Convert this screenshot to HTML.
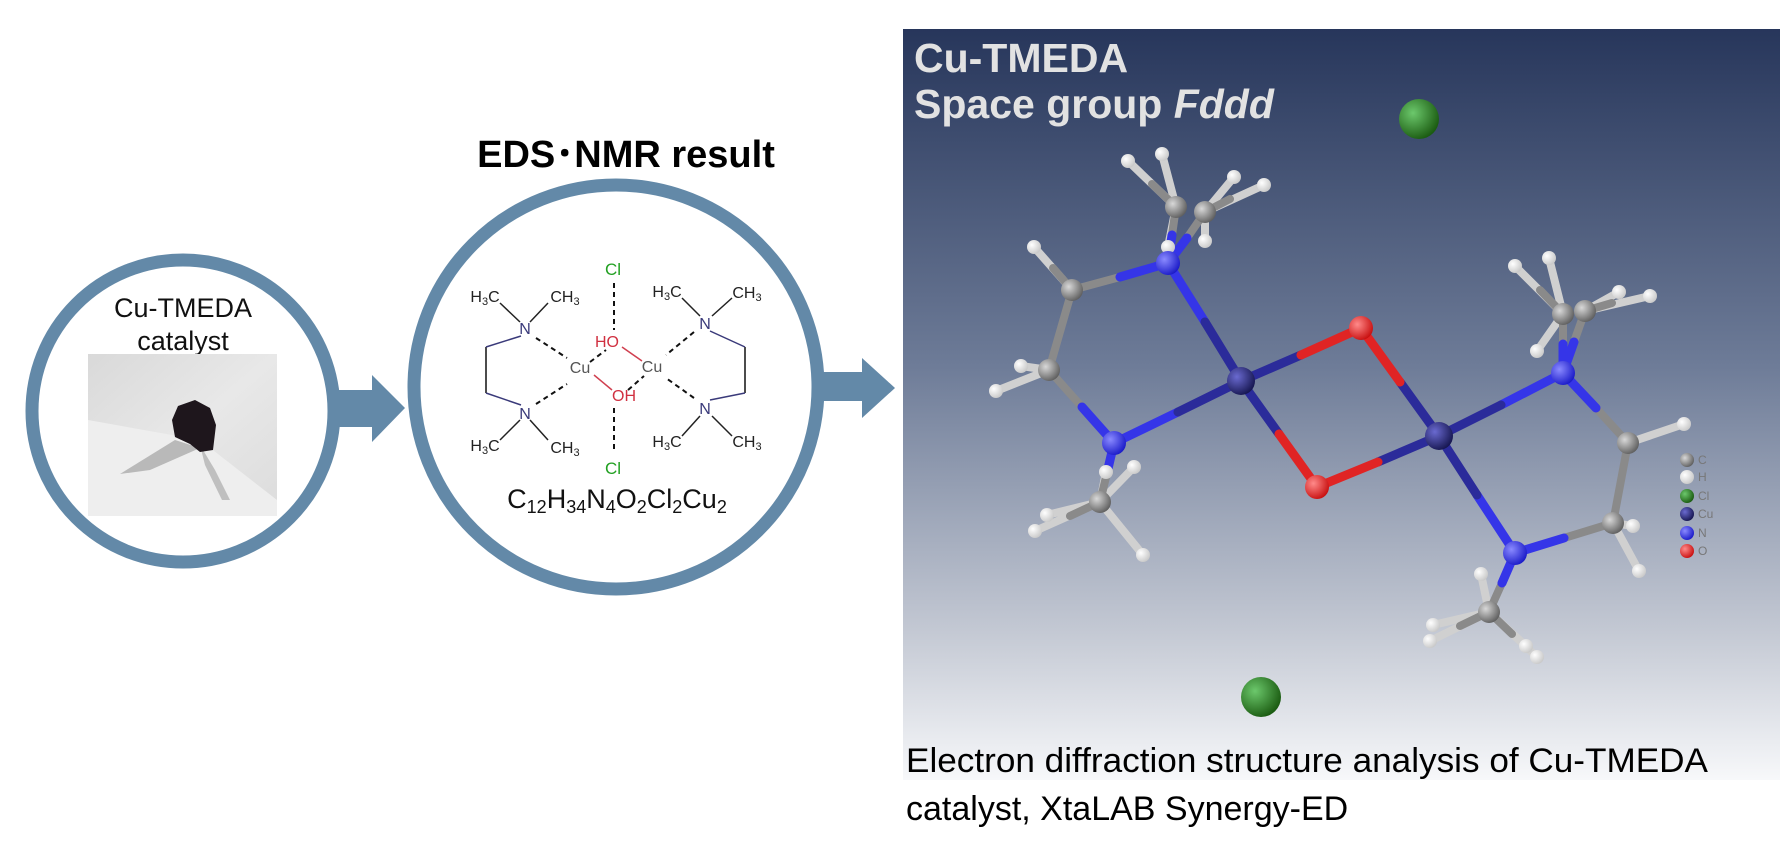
<!DOCTYPE html>
<html><head><meta charset="utf-8"><style>
html,body{margin:0;padding:0;background:#fff;}
svg{display:block;}
text{font-family:"Liberation Sans",Arial,sans-serif;}
</style></head><body>
<svg width="1780" height="843" viewBox="0 0 1780 843" xmlns="http://www.w3.org/2000/svg">
<defs>
<linearGradient id="bg" x1="0" y1="0" x2="0" y2="1">
<stop offset="0" stop-color="#27365b"/>
<stop offset="0.45" stop-color="#6e7c98"/>
<stop offset="0.8" stop-color="#c3c8d3"/>
<stop offset="1" stop-color="#f7f8fa"/>
</linearGradient>
<radialGradient id="gCu" cx="0.35" cy="0.35" r="0.7"><stop offset="0" stop-color="#6a6ad0"/><stop offset="1" stop-color="#161650"/></radialGradient>
<radialGradient id="gN" cx="0.35" cy="0.35" r="0.7"><stop offset="0" stop-color="#8a8aff"/><stop offset="1" stop-color="#1a1ac8"/></radialGradient>
<radialGradient id="gO" cx="0.35" cy="0.35" r="0.7"><stop offset="0" stop-color="#ff8a8a"/><stop offset="1" stop-color="#c80f0f"/></radialGradient>
<radialGradient id="gC" cx="0.35" cy="0.35" r="0.7"><stop offset="0" stop-color="#d8d8d8"/><stop offset="1" stop-color="#5e5e5e"/></radialGradient>
<radialGradient id="gH" cx="0.35" cy="0.35" r="0.7"><stop offset="0" stop-color="#ffffff"/><stop offset="1" stop-color="#c8c8c8"/></radialGradient>
<radialGradient id="gCl" cx="0.35" cy="0.35" r="0.7"><stop offset="0" stop-color="#6cc86c"/><stop offset="1" stop-color="#1a5a10"/></radialGradient>
<linearGradient id="photo" x1="0" y1="0" x2="1" y2="1"><stop offset="0" stop-color="#d9d9d9"/><stop offset="0.5" stop-color="#e8e8e8"/><stop offset="1" stop-color="#dcdcdc"/></linearGradient>
</defs>

<circle cx="183" cy="411" r="151" fill="#fff" stroke="#6389a8" stroke-width="13"/>
<text x="183" y="317" font-size="27" text-anchor="middle" fill="#111">Cu-TMEDA</text>
<text x="183" y="350" font-size="27" text-anchor="middle" fill="#111">catalyst</text>
<rect x="88" y="354" width="189" height="162" fill="url(#photo)"/>
<polygon points="88,420 200,440 277,500 277,516 88,516" fill="#eeeeee"/>
<polygon points="120,474 175,440 200,448 150,470" fill="#777" opacity="0.45"/>
<polygon points="200,445 215,470 230,500 222,500 205,465" fill="#777" opacity="0.4"/>
<polygon points="178,406 195,400 210,408 216,425 213,450 200,452 190,444 175,437 172,420" fill="#1e161c"/>

<rect x="335" y="390" width="40" height="37" fill="#6389a8"/>
<polygon points="372,375 405,408 372,442" fill="#6389a8"/>

<text x="626" y="167" font-size="38" font-weight="bold" text-anchor="middle" fill="#000">EDS･NMR result</text>

<circle cx="616" cy="387" r="202" fill="#fff" stroke="#6389a8" stroke-width="13"/>

<rect x="822" y="372" width="44" height="29" fill="#6389a8"/>
<polygon points="862,358 895,388 862,418" fill="#6389a8"/>

<g font-size="16" fill="#222">
<g stroke="#111" stroke-width="1.5" fill="none">
<path d="M486,347 L486,393" />
<path d="M521,336 L486,347 M521,405 L486,393" stroke="#3a3a7a"/>
<path d="M745,347 L745,393"/>
<path d="M710,331 L745,347 M710,400 L745,393" stroke="#3a3a7a"/>
<path d="M500,303 L520,322 M548,303 L530,322 M500,440 L520,420 M548,440 L530,420" stroke="#222"/>
<path d="M682,298 L700,316 M732,298 L712,316 M682,436 L700,416 M732,436 L712,416" stroke="#222"/>
</g>
<g stroke="#111" stroke-width="2" stroke-dasharray="5,4" fill="none">
<path d="M536,338 L567,358 M536,404 L567,384 M614,283 L614,330 M614,408 L614,453"/>
<path d="M590,362 L606,350 M628,390 L644,376 M694,332 L666,355 M694,398 L666,378"/>
</g>
<path d="M622,347 L642,361 M594,375 L612,390" stroke="#d04050" stroke-width="1.5"/>
<text x="613" y="275" fill="#22a022" text-anchor="middle" font-size="17">Cl</text>
<text x="613" y="474" fill="#22a022" text-anchor="middle" font-size="17">Cl</text>
<text x="607" y="347" fill="#d03040" text-anchor="middle">HO</text>
<text x="624" y="401" fill="#d03040" text-anchor="middle">OH</text>
<text x="580" y="373" fill="#555" text-anchor="middle">Cu</text>
<text x="652" y="372" fill="#555" text-anchor="middle">Cu</text>
<text x="525" y="334" fill="#3a3a7a" text-anchor="middle">N</text>
<text x="525" y="419" fill="#3a3a7a" text-anchor="middle">N</text>
<text x="705" y="329" fill="#3a3a7a" text-anchor="middle">N</text>
<text x="705" y="414" fill="#3a3a7a" text-anchor="middle">N</text>
<text x="485" y="302" text-anchor="middle">H<tspan font-size="11" dy="3">3</tspan><tspan dy="-3">C</tspan></text>
<text x="565" y="302" text-anchor="middle">CH<tspan font-size="11" dy="3">3</tspan></text>
<text x="485" y="451" text-anchor="middle">H<tspan font-size="11" dy="3">3</tspan><tspan dy="-3">C</tspan></text>
<text x="565" y="453" text-anchor="middle">CH<tspan font-size="11" dy="3">3</tspan></text>
<text x="667" y="297" text-anchor="middle">H<tspan font-size="11" dy="3">3</tspan><tspan dy="-3">C</tspan></text>
<text x="747" y="298" text-anchor="middle">CH<tspan font-size="11" dy="3">3</tspan></text>
<text x="667" y="447" text-anchor="middle">H<tspan font-size="11" dy="3">3</tspan><tspan dy="-3">C</tspan></text>
<text x="747" y="447" text-anchor="middle">CH<tspan font-size="11" dy="3">3</tspan></text>
</g>
<text x="617" y="508" font-size="27" text-anchor="middle" fill="#111">C<tspan font-size="18" dy="5">12</tspan><tspan dy="-5">H</tspan><tspan font-size="18" dy="5">34</tspan><tspan dy="-5">N</tspan><tspan font-size="18" dy="5">4</tspan><tspan dy="-5">O</tspan><tspan font-size="18" dy="5">2</tspan><tspan dy="-5">Cl</tspan><tspan font-size="18" dy="5">2</tspan><tspan dy="-5">Cu</tspan><tspan font-size="18" dy="5">2</tspan></text>

<rect x="903" y="29" width="877" height="751" fill="url(#bg)"/>
<text x="914" y="72" font-size="41" font-weight="bold" fill="#e2e2e2">Cu-TMEDA</text>
<text x="914" y="118" font-size="41" font-weight="bold" fill="#e2e2e2">Space group <tspan font-style="italic">Fddd</tspan></text>

<g stroke="#d0d0d0" stroke-width="8" stroke-linecap="round">
<path d="M1176,207 L1128,161 M1176,207 L1162,154 M1205,212 L1234,177 M1205,212 L1264,185 M1205,212 L1205,241 M1176,207 L1168,247"/>
<path d="M1072,290 L1034,247 M1049,370 L1021,366 M1049,370 L996,391"/>
<path d="M1100,502 L1035,531 M1100,502 L1106,472 M1100,502 L1134,467 M1100,502 L1143,555 M1100,502 L1047,515"/>
<path d="M1563,314 L1515,266 M1563,314 L1549,258 M1585,311 L1619,292 M1585,311 L1650,296 M1563,314 L1537,351"/>
<path d="M1628,443 L1684,424 M1613,523 L1633,526 M1613,523 L1639,571"/>
<path d="M1489,612 L1481,574 M1489,612 L1430,641 M1489,612 L1433,625 M1489,612 L1537,657 M1489,612 L1526,646"/>
</g>
<g stroke="#8a8a8a" stroke-width="8" stroke-linecap="round">
<path d="M1176,207 L1152,184 M1205,212 L1230,199 M1072,290 L1053,268 M1100,502 L1070,516 M1563,314 L1540,290 M1585,311 L1612,303 M1489,612 L1460,626 M1489,612 L1512,634"/>
<path d="M1072,290 L1049,370 M1628,443 L1613,523"/>
<path d="M1072,290 L1120,277 M1049,370 L1082,407 M1176,207 L1172,235 M1205,212 L1187,238 M1100,502 L1107,473 M1628,443 L1596,408 M1613,523 L1564,538 M1563,314 L1563,344 M1585,311 L1574,342 M1489,612 L1502,583"/>
</g>
<g stroke="#3535e8" stroke-width="9" stroke-linecap="round">
<path d="M1168,263 L1120,277 M1114,443 L1082,407 M1168,263 L1172,235 M1168,263 L1187,238 M1114,443 L1107,473 M1563,373 L1596,408 M1515,553 L1564,538 M1563,373 L1563,344 M1563,373 L1574,342 M1515,553 L1502,583"/>
<path d="M1168,263 L1205,322 M1114,443 L1178,412 M1563,373 L1501,405 M1515,553 L1477,495"/>
</g>
<g stroke="#2b2b9a" stroke-width="9" stroke-linecap="round">
<path d="M1241,381 L1205,322 M1241,381 L1178,412 M1241,381 L1301,355 M1241,381 L1279,434 M1439,436 L1400,382 M1439,436 L1378,462 M1439,436 L1501,405 M1439,436 L1477,495"/>
</g>
<g stroke="#e02424" stroke-width="9" stroke-linecap="round">
<path d="M1361,328 L1301,355 M1317,487 L1279,434 M1361,328 L1400,382 M1317,487 L1378,462"/>
</g>
<g fill="url(#gH)">
<circle cx="1128" cy="161" r="7"/><circle cx="1162" cy="154" r="7"/><circle cx="1234" cy="177" r="7"/><circle cx="1264" cy="185" r="7"/><circle cx="1205" cy="241" r="7"/><circle cx="1168" cy="247" r="7"/>
<circle cx="1034" cy="247" r="7"/><circle cx="1021" cy="366" r="7"/><circle cx="996" cy="391" r="7"/>
<circle cx="1035" cy="531" r="7"/><circle cx="1106" cy="472" r="7"/><circle cx="1134" cy="467" r="7"/><circle cx="1143" cy="555" r="7"/><circle cx="1047" cy="515" r="7"/>
<circle cx="1515" cy="266" r="7"/><circle cx="1549" cy="258" r="7"/><circle cx="1619" cy="292" r="7"/><circle cx="1650" cy="296" r="7"/><circle cx="1537" cy="351" r="7"/>
<circle cx="1684" cy="424" r="7"/><circle cx="1639" cy="571" r="7"/><circle cx="1633" cy="526" r="7"/>
<circle cx="1481" cy="574" r="7"/><circle cx="1430" cy="641" r="7"/><circle cx="1433" cy="625" r="7"/><circle cx="1537" cy="657" r="7"/><circle cx="1526" cy="646" r="7"/>
</g>
<g fill="url(#gC)">
<circle cx="1176" cy="207" r="11"/><circle cx="1205" cy="212" r="11"/><circle cx="1072" cy="290" r="11"/><circle cx="1049" cy="370" r="11"/><circle cx="1100" cy="502" r="11"/>
<circle cx="1628" cy="443" r="11"/><circle cx="1613" cy="523" r="11"/><circle cx="1563" cy="314" r="11"/><circle cx="1585" cy="311" r="11"/><circle cx="1489" cy="612" r="11"/>
</g>
<g fill="url(#gN)">
<circle cx="1168" cy="263" r="12"/><circle cx="1114" cy="443" r="12"/><circle cx="1563" cy="373" r="12"/><circle cx="1515" cy="553" r="12"/>
</g>
<g fill="url(#gO)"><circle cx="1361" cy="328" r="12"/><circle cx="1317" cy="487" r="12"/></g>
<g fill="url(#gCu)"><circle cx="1241" cy="381" r="14"/><circle cx="1439" cy="436" r="14"/></g>
<g fill="url(#gCl)"><circle cx="1419" cy="119" r="20"/><circle cx="1261" cy="697" r="20"/></g>

<circle cx="1687" cy="460" r="7" fill="url(#gC)"/><circle cx="1687" cy="477" r="7" fill="url(#gH)"/><circle cx="1687" cy="496" r="7" fill="url(#gCl)"/>
<circle cx="1687" cy="514" r="7" fill="url(#gCu)"/><circle cx="1687" cy="533" r="7" fill="url(#gN)"/><circle cx="1687" cy="551" r="7" fill="url(#gO)"/>
<g font-size="12" fill="#777">
<text x="1698" y="464" font-family="Liberation Mono,monospace">C</text><text x="1698" y="481" font-family="Liberation Mono,monospace">H</text><text x="1698" y="500" font-family="Liberation Mono,monospace">Cl</text>
<text x="1698" y="518" font-family="Liberation Mono,monospace">Cu</text><text x="1698" y="537" font-family="Liberation Mono,monospace">N</text><text x="1698" y="555" font-family="Liberation Mono,monospace">O</text>
</g>

<text x="906" y="772" font-size="34" fill="#000" textLength="802" lengthAdjust="spacingAndGlyphs">Electron diffraction structure analysis of Cu-TMEDA</text>
<text x="906" y="820" font-size="34" fill="#000">catalyst, XtaLAB Synergy-ED</text>
</svg>
</body></html>
